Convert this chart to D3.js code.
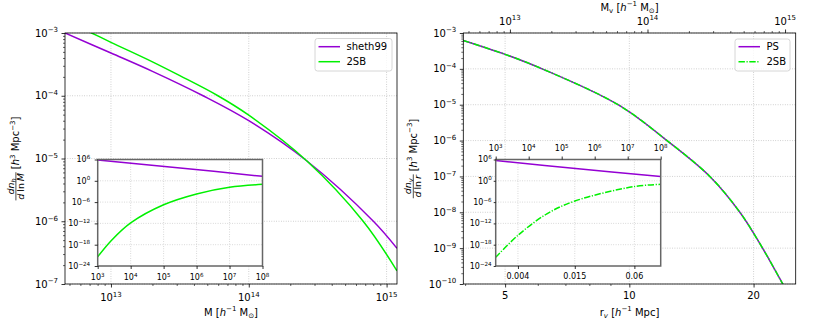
<!DOCTYPE html>
<html><head><meta charset="utf-8">
<script src="https://cdn.jsdelivr.net/npm/d3@7"></script>
<style>body{margin:0;background:#fff} text{font-family:"DejaVu Sans",sans-serif;fill:#000}</style>
</head><body><svg id="c" width="834" height="319"></svg>
<script>
// ---------------- data ----------------
const haloMassSheth = [4.64e12, 1e13, 2e13, 4.66e13, 1e14, 2.63e14, 8.02e14, 1.19e15];
const sheth99Main   = [1.0e-3, 4.8e-4, 2.45e-4, 1.0e-4, 4.0e-5, 9.2e-6, 1.0e-6, 3.7e-7];
const haloMass2SB   = [4.64e12, 7.24e12, 1e13, 2e13, 3.16e13, 5.97e13, 1e14, 2.63e14, 6.76e14, 1.19e15];
const twoSBHaloMain = [1.58e-3, 1.0e-3, 7.1e-4, 3.47e-4, 2.09e-4, 1.0e-4, 4.9e-5, 9.2e-6, 1.0e-6, 1.62e-7];

const insetMassLine = [1e3, 3.16e5, 1e8];
const sheth99Inset  = [7.2e5, 4.0e3, 18.6];
const insetMass2SB  = [1e3, 2.6e3, 1e4, 1e5, 1e6, 1e7, 1e8];
const twoSBHaloInset= [4e-22, 1.6e-17, 1.4e-12, 1.8e-7, 2e-4, 1.5e-2, 0.1];

const voidRadius    = [3.96, 5, 6.15, 9.39, 12.34, 15.67, 18.53, 21.03, 23.54, 25.3];
const psVoidMain    = [6.2e-4, 2.54e-4, 1e-4, 1e-5, 1e-6, 1e-7, 1e-8, 1e-9, 1e-10, 2.3e-11];
const twoSBVoidMain = [6.2e-4, 2.54e-4, 1e-4, 1e-5, 1e-6, 1e-7, 1e-8, 1e-9, 1e-10, 2.3e-11];

const voidInsetMassLine = [1e3, 3.16e5, 1e8];
const psVoidInset       = [5e5, 2.5e3, 15.8];
const voidInsetMass2SB  = [1e3, 4.84e3, 3.55e4, 2.51e5, 1.48e7, 1e8];
const twoSBVoidInset    = [2.8e-22, 5.4e-16, 5e-10, 2e-6, 2.2e-2, 0.1];

const leftMainXTicks  = [1e13, 1e14, 1e15];
const leftMainYTicks  = [1e-7, 1e-6, 1e-5, 1e-4, 1e-3];
const rightMainXTicks = [5, 10, 20];
const rightMainXMinor = [4, 6, 7, 8, 9];
const rightMainYTicks = [1e-10, 1e-9, 1e-8, 1e-7, 1e-6, 1e-5, 1e-4, 1e-3];
const rightTopTicks   = [1e13, 1e14, 1e15];
const insetMassTicks  = [1e3, 1e4, 1e5, 1e6, 1e7, 1e8];
const insetYTicks     = [1e-24, 1e-18, 1e-12, 1e-6, 1, 1e6];
const insetRadiusTicks= [0.004, 0.015, 0.06];
const insetRadiusLabels = ["0.004", "0.015", "0.06"];

const PURPLE = "#9400d3", GREEN = "#00f000";
const DASHDOT = "6.4,1.6,1.2,1.6";

// ---------------- helpers ----------------
const svg = d3.select("#c");
const massConst = Math.pow(10, 10.868); // M_v = C r^3 (top axis relation)

function fmtExp(k){ return (k<0?"\u2212":"") + Math.abs(k); }
function rich(t, parts, fs){
  let off = 0;
  parts.forEach(p=>{
    const ts = t.append("tspan").text(p.t);
    let target = 0, size = fs;
    if (p.s==="sup"){ target = -0.42*fs; size = 0.7*fs; }
    else if (p.s==="sub"){ target = 0.22*fs; size = 0.7*fs; }
    ts.attr("font-size", size).attr("dy", target-off);
    off = target;
    if (p.i) ts.attr("font-style","italic");
  });
  return t;
}
function pow10(g, x, y, v, fs, anchor){
  const k = Math.round(Math.log10(v));
  const t = g.append("text").attr("x",x).attr("y",y).attr("text-anchor",anchor).attr("font-size",fs);
  rich(t, [{t:"10"},{t:fmtExp(k), s:"sup"}], fs);
}
function minorsLog(domain){
  const out=[];
  for(let j=Math.floor(Math.log10(domain[0]))-1;j<=Math.ceil(Math.log10(domain[1]));j++)
    for(let k=2;k<=9;k++){ const v=k*Math.pow(10,j); if(v>=domain[0]&&v<=domain[1]) out.push(v); }
  return out;
}
function axisTicks(g, axisFn, scale, vals, size, width){
  const a = g.append("g").call(axisFn(scale).tickValues(vals).tickSize(size).tickFormat(""));
  a.select(".domain").remove();
  a.selectAll("line").attr("stroke","#000").attr("stroke-width",width);
  return a;
}
function grid(g, xs, ys, xv, yv, dash, color){
  const [x0,x1]=xs.range(), [y0,y1]=ys.range();
  g.selectAll(null).data(xv).enter().append("line")
    .attr("x1",d=>xs(d)).attr("x2",d=>xs(d)).attr("y1",y0).attr("y2",y1)
    .attr("stroke",color).attr("stroke-width",0.8).attr("stroke-dasharray",dash);
  g.selectAll(null).data(yv).enter().append("line")
    .attr("y1",d=>ys(d)).attr("y2",d=>ys(d)).attr("x1",x0).attr("x2",x1)
    .attr("stroke",color).attr("stroke-width",0.8).attr("stroke-dasharray",dash);
}
let clipId=0;
function clipRect(x,y,w,h){
  const id="clip"+(clipId++);
  svg.append("clipPath").attr("id",id).append("rect").attr("x",x).attr("y",y).attr("width",w).attr("height",h);
  return "url(#"+id+")";
}
function curve(g, xs, ys, xv, yv, color, dash, clip){
  const pts = xv.map((x,i)=>[xs(x), ys(yv[i])]);
  const p = g.append("path").attr("d", d3.line().curve(d3.curveCatmullRom.alpha(0.5))(pts))
    .attr("fill","none").attr("stroke",color).attr("stroke-width",1.5).attr("clip-path",clip);
  if(dash) p.attr("stroke-dasharray",dash);
}
function yLabel(cx, cy, sub, denVar){
  const fs = 9.5;
  const g = svg.append("g").attr("transform",`translate(${cx},${cy}) rotate(-90)`);
  const num = g.append("text").attr("text-anchor","middle").attr("font-size",fs);
  const den = g.append("text").attr("text-anchor","middle").attr("font-size",fs);
  const br  = g.append("text").attr("font-size",10);
  rich(num,[{t:"dn",i:true},{t:sub,i:true,s:"sub"}],fs);
  rich(den,[{t:"d",i:true},{t:"\u2009ln\u2009"},{t:denVar,i:true}],fs);
  rich(br,[{t:"["},{t:"h",i:true},{t:"3",s:"sup"},{t:" Mpc"},{t:"\u22123",s:"sup"},{t:"]"}],10);
  const wDen = den.node().getComputedTextLength(), wNum = num.node().getComputedTextLength();
  const wf = Math.max(wDen,wNum)+1.5, wb = br.node().getComputedTextLength();
  const total = wf + 3 + wb, start = -total/2, fu = start + wf/2;
  num.attr("x",fu).attr("y",-1.8);
  den.attr("x",fu).attr("y",8.2);
  g.append("line").attr("x1",start).attr("x2",start+wf).attr("y1",0.3).attr("y2",0.3).attr("stroke","#000").attr("stroke-width",0.7);
  br.attr("x",start+wf+3).attr("y",3.6);
}

// ---------------- LEFT PANEL ----------------
const L = {x:65, y:33, w:332, h:251};
const xL = d3.scaleLog().domain([4.64e12, 1.19e15]).range([L.x, L.x+L.w]);
const yL = d3.scaleLog().domain([1e-7, 1e-3]).range([L.y+L.h, L.y]);
const gL = svg.append("g");
grid(gL, xL, yL, leftMainXTicks, leftMainYTicks, "0.8,1.6", "#b8b8b8");
const cL = clipRect(L.x, L.y, L.w, L.h);
curve(gL, xL, yL, haloMassSheth, sheth99Main, PURPLE, null, cL);
curve(gL, xL, yL, haloMass2SB, twoSBHaloMain, GREEN, null, cL);
gL.append("rect").attr("x",L.x).attr("y",L.y).attr("width",L.w).attr("height",L.h).attr("fill","none").attr("stroke","#000").attr("stroke-width",0.8);
const gLb = gL.append("g").attr("transform",`translate(0,${L.y+L.h})`);
axisTicks(gLb, d3.axisBottom, xL, leftMainXTicks, 3.5, 0.8);
axisTicks(gLb, d3.axisBottom, xL, minorsLog(xL.domain()), 2, 0.6);
const gLl = gL.append("g").attr("transform",`translate(${L.x},0)`);
axisTicks(gLl, d3.axisLeft, yL, leftMainYTicks, 3.5, 0.8);
axisTicks(gLl, d3.axisLeft, yL, minorsLog(yL.domain()), 2, 0.6);
leftMainXTicks.forEach(v=>pow10(gL, xL(v), 301, v, 10, "middle"));
leftMainYTicks.forEach(v=>pow10(gL, L.x-7, yL(v)+3.6, v, 10, "end"));
rich(gL.append("text").attr("x",L.x+L.w/2).attr("y",315.5).attr("text-anchor","middle").attr("font-size",10),
  [{t:"M ["},{t:"h",i:true},{t:"\u22121",s:"sup"},{t:" M"},{t:"\u2299",s:"sub"},{t:"]"}],10);
yLabel(15.6, L.y+L.h/2, "h", "M");
// legend
const lgL = gL.append("g");
lgL.append("rect").attr("x",315).attr("y",38.5).attr("width",77).attr("height",32.5).attr("rx",2.5)
  .attr("fill","#fff").attr("fill-opacity",0.8).attr("stroke","#cccccc").attr("stroke-width",0.8);
[["sheth99",PURPLE,46.7,null],["2SB",GREEN,61.7,null]].forEach(([n,c,y,d])=>{
  lgL.append("line").attr("x1",318.5).attr("x2",340).attr("y1",y).attr("y2",y).attr("stroke",c).attr("stroke-width",1.5);
  lgL.append("text").attr("x",346.5).attr("y",y+3.6).attr("font-size",10).text(n);
});
// inset
const IL = {x:97.7, y:159.5, w:164.8, h:106.5};
const xIL = d3.scaleLog().domain([1e3,1e8]).range([IL.x, IL.x+IL.w]);
const yIL = d3.scaleLog().domain([1e-24,1e6]).range([IL.y+IL.h, IL.y]);
const gIL = svg.append("g");
gIL.append("rect").attr("x",IL.x).attr("y",IL.y).attr("width",IL.w).attr("height",IL.h).attr("fill","#fff");
grid(gIL, xIL, yIL, insetMassTicks.slice(1,-1), insetYTicks.slice(1,-1), "0.8,1.6", "#c4c4c4");
const cIL = clipRect(IL.x, IL.y, IL.w, IL.h);
curve(gIL, xIL, yIL, insetMassLine, sheth99Inset, PURPLE, null, cIL);
curve(gIL, xIL, yIL, insetMass2SB, twoSBHaloInset, GREEN, null, cIL);
gIL.append("rect").attr("x",IL.x).attr("y",IL.y).attr("width",IL.w).attr("height",IL.h).attr("fill","none").attr("stroke","#666").attr("stroke-width",1.5);
axisTicks(gIL.append("g").attr("transform",`translate(0,${IL.y+IL.h})`), d3.axisBottom, xIL, insetMassTicks, 3, 0.8);
axisTicks(gIL.append("g").attr("transform",`translate(${IL.x},0)`), d3.axisLeft, yIL, insetYTicks, 3, 0.8);
insetMassTicks.forEach(v=>pow10(gIL, xIL(v), 280, v, 8, "middle"));
insetYTicks.forEach(v=>pow10(gIL, IL.x-7.5, yIL(v)+2.9, v, 8, "end"));

// ---------------- RIGHT PANEL ----------------
const R = {x:463.3, y:33, w:332.4, h:251};
const xR = d3.scaleLog().domain([3.96, 25.3]).range([R.x, R.x+R.w]);
const yR = d3.scaleLog().domain([1e-10, 1e-3]).range([R.y+R.h, R.y]);
const xRtop = d3.scaleLog().domain(xR.domain().map(r=>massConst*r*r*r)).range(xR.range());
const gR = svg.append("g");
grid(gR, xR, yR, rightMainXTicks, rightMainYTicks, "0.8,1.6", "#b8b8b8");
const cR = clipRect(R.x, R.y, R.w, R.h);
curve(gR, xR, yR, voidRadius, psVoidMain, PURPLE, null, cR);
curve(gR, xR, yR, voidRadius, twoSBVoidMain, GREEN, DASHDOT, cR);
gR.append("rect").attr("x",R.x).attr("y",R.y).attr("width",R.w).attr("height",R.h).attr("fill","none").attr("stroke","#000").attr("stroke-width",0.8);
const gRb = gR.append("g").attr("transform",`translate(0,${R.y+R.h})`);
axisTicks(gRb, d3.axisBottom, xR, rightMainXTicks, 3.5, 0.8);
axisTicks(gRb, d3.axisBottom, xR, rightMainXMinor, 2, 0.6);
const gRt = gR.append("g").attr("transform",`translate(0,${R.y})`);
axisTicks(gRt, d3.axisTop, xRtop, rightTopTicks, 3.5, 0.8);
axisTicks(gRt, d3.axisTop, xRtop, minorsLog(xRtop.domain()), 2, 0.6);
const gRl = gR.append("g").attr("transform",`translate(${R.x},0)`);
axisTicks(gRl, d3.axisLeft, yR, rightMainYTicks, 3.5, 0.8);
axisTicks(gRl, d3.axisLeft, yR, minorsLog(yR.domain()), 2, 0.6);
rightMainXTicks.forEach(v=>gR.append("text").attr("x",xR(v)).attr("y",298.5).attr("text-anchor","middle").attr("font-size",10).text(v));
rightMainYTicks.forEach(v=>pow10(gR, R.x-7, yR(v)+3.6, v, 10, "end"));
rightTopTicks.forEach(v=>pow10(gR, xRtop(v), 24.5, v, 10, "middle"));
rich(gR.append("text").attr("x",R.x+R.w/2).attr("y",315.5).attr("text-anchor","middle").attr("font-size",10),
  [{t:"r"},{t:"v",i:true,s:"sub"},{t:" ["},{t:"h",i:true},{t:"\u22121",s:"sup"},{t:" Mpc]"}],10);
rich(gR.append("text").attr("x",R.x+R.w/2).attr("y",10.5).attr("text-anchor","middle").attr("font-size",10),
  [{t:"M"},{t:"v",s:"sub"},{t:" ["},{t:"h",i:true},{t:"\u22121",s:"sup"},{t:" M"},{t:"\u2299",s:"sub"},{t:"]"}],10);
yLabel(413, R.y+R.h/2, "v", "r");
const lgR = gR.append("g");
lgR.append("rect").attr("x",735).attr("y",39).attr("width",55).attr("height",32).attr("rx",2.5)
  .attr("fill","#fff").attr("fill-opacity",0.8).attr("stroke","#cccccc").attr("stroke-width",0.8);
[["PS",PURPLE,46.7,null],["2SB",GREEN,61.7,DASHDOT]].forEach(([n,c,y,d])=>{
  const ln = lgR.append("line").attr("x1",738.5).attr("x2",760).attr("y1",y).attr("y2",y).attr("stroke",c).attr("stroke-width",1.5);
  if(d) ln.attr("stroke-dasharray",d);
  lgR.append("text").attr("x",766.5).attr("y",y+3.6).attr("font-size",10).text(n);
});
// inset
const IR = {x:495.7, y:159.5, w:165, h:106.5};
const xIR = d3.scaleLog().domain([1e3,1e8]).range([IR.x, IR.x+IR.w]);
const xIRr = d3.scaleLog().domain(xIR.domain().map(m=>Math.cbrt(m/massConst))).range(xIR.range());
const yIR = d3.scaleLog().domain([1e-24,1e6]).range([IR.y+IR.h, IR.y]);
const gIR = svg.append("g");
gIR.append("rect").attr("x",IR.x).attr("y",IR.y).attr("width",IR.w).attr("height",IR.h).attr("fill","#fff");
grid(gIR, xIRr, yIR, insetRadiusTicks, insetYTicks.slice(1,-1), "0.8,1.6", "#c4c4c4");
const cIR = clipRect(IR.x, IR.y, IR.w, IR.h);
curve(gIR, xIR, yIR, voidInsetMassLine, psVoidInset, PURPLE, null, cIR);
curve(gIR, xIR, yIR, voidInsetMass2SB, twoSBVoidInset, GREEN, DASHDOT, cIR);
gIR.append("rect").attr("x",IR.x).attr("y",IR.y).attr("width",IR.w).attr("height",IR.h).attr("fill","none").attr("stroke","#666").attr("stroke-width",1.5);
axisTicks(gIR.append("g").attr("transform",`translate(0,${IR.y})`), d3.axisTop, xIR, insetMassTicks, 3, 0.8);
axisTicks(gIR.append("g").attr("transform",`translate(0,${IR.y+IR.h})`), d3.axisBottom, xIRr, insetRadiusTicks, 3, 0.8);
axisTicks(gIR.append("g").attr("transform",`translate(${IR.x},0)`), d3.axisLeft, yIR, insetYTicks, 2, 0.8);
insetMassTicks.forEach(v=>pow10(gIR, xIR(v), 151, v, 8, "middle"));
insetRadiusTicks.forEach((v,i)=>gIR.append("text").attr("x",xIRr(v)).attr("y",279).attr("text-anchor","middle").attr("font-size",8).text(insetRadiusLabels[i]));
insetYTicks.forEach(v=>pow10(gIR, IR.x-4, yIR(v)+2.9, v, 8, "end"));
</script></body></html>
